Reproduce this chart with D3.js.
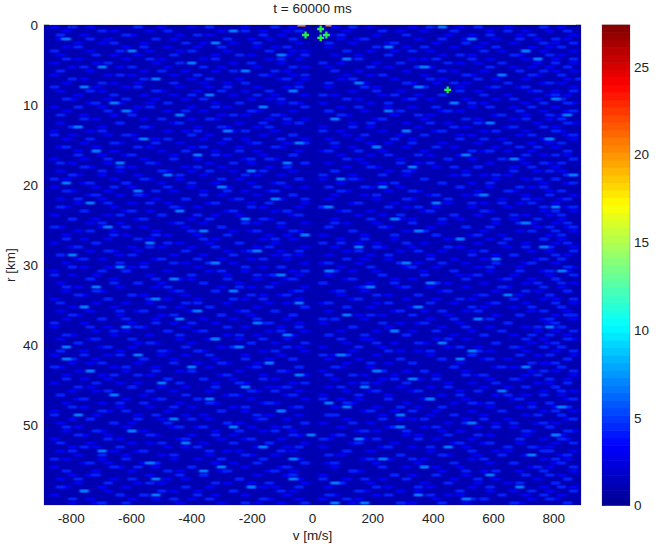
<!DOCTYPE html>
<html><head><meta charset="utf-8">
<script src="https://cdn.jsdelivr.net/npm/d3@7"></script>
<style>html,body{margin:0;background:#fff}svg{display:block}text{font-family:"Liberation Sans",Arial,sans-serif;fill:#222}</style>
</head><body><svg id="c" width="661" height="551"></svg>
<script>
// Speckle of the noise floor. One string per range bin, listing the velocity bins that hold a streak.
// brightRows: the strongest streaks, placed by eye from zoomed crops where they could be picked out.
// midRows, faintRows: weaker speckle, hand-typed to match its density and look; NOT individually read positions.
const brightRows = [
"66","31","","3 71","28","57","14 80","39","82 50","24",
"9 63","33","76","18","52","62 6","41","27","85","11 68",
"36","13 57","87 22","48","74","5","30 60","","16 84","42",
"55","8","25 70","78","40 12","61","34","20 88","49","3",
"56 29","15","73","38","7 65","85 47","22","","33 58","80",
"10","62 26","43","69","17","52 83","35","4","75","28 60",
"12","47 86","39","21","64","8 54","31","77","18","42",
"62 6","25","50","22 72","35","13 84","58","40","28","66",
"32 3 ","71","15 49","69 3","37","80 24","7 55","42","61","19",
"53 33","76","11","27 64","47","50 86","39","5 59","21","71",
"59 31","14","85 44","52","23","36 67","9","81","41 56","17",
"63 29","26","74","18 41","48","34 79","6","18 62","70","48 53",
"25","11","39 66","52 84","41","39 30 ","58","21","8 74","63"
];
const midRows = [
"4 15 27 38 51 64 72 83","9 20 33 42 56 68 77 87","2 13 25 36 49 60 74 81","7 18 30 41 53 66 79 85","11 23 35 47 58 70 83 88","5 16 29 40 55 63 75 86","1 12 24 37 50 61 73 80","8 21 32 43 57 69 78 84","3 17 28 39 52 65 71 82 88","10 22 34 46 59 67 76 85",
"6 14 26 41 54 62 74 87","2 19 31 38 48 66 79 83","12 25 36 43 56 70 81 86","4 16 27 40 51 64 72 89","9 21 33 47 60 68 77 84","1 15 30 42 53 63 75 80","7 18 29 37 55 69 82 88","11 24 35 46 58 66 73 85","3 13 26 39 50 61 78 86","8 20 32 41 57 71 83 87",
"5 17 28 43 52 65 74 81","10 23 34 47 59 67 79 88","2 14 31 38 49 62 76 84","6 19 27 40 56 70 80 86","12 22 36 42 54 64 72 87","4 16 29 37 51 68 78 83","9 25 33 46 60 66 75 85","1 13 24 41 53 63 81 88","7 20 30 39 58 69 73 84","11 18 35 43 48 61 77 86",
"3 15 26 38 55 65 79 82","8 23 32 47 52 71 74 87","5 14 28 41 57 62 80 85","10 21 34 37 50 67 76 88","2 17 31 43 59 64 83 86","6 12 25 40 54 68 72 81","9 19 27 36 48 60 78 84","4 22 33 46 56 70 75 87","1 16 29 42 51 63 82 85","7 13 24 39 58 66 74 88",
"11 20 35 47 53 69 79 83","3 18 30 38 49 61 77 86","8 15 26 41 55 65 72 84","5 23 32 43 60 67 80 87","10 17 28 37 52 71 76 81","2 21 34 46 57 62 83 88","6 14 31 40 50 64 73 85","12 19 25 42 59 68 78 86","4 16 27 36 54 66 75 82","9 22 33 39 48 61 79 87",
"1 13 29 47 56 70 74 84 88","7 24 35 41 51 63 81 85","11 18 30 43 58 65 72 86","3 15 26 38 53 69 77 83","8 20 32 46 49 60 76 87","5 17 28 37 55 67 80 84","10 23 34 42 52 62 73 88","2 14 31 40 57 71 78 85","6 19 25 36 50 64 83 86","12 21 27 47 59 66 75 81",
"4 16 33 39 54 61 74 87","9 13 29 43 48 68 79 84","1 24 35 38 56 63 72 88","7 18 30 41 51 70 77 85","11 15 26 46 58 65 82 86","3 20 32 37 53 60 76 83","8 22 28 42 49 67 80 87","5 14 34 40 55 62 73 84","10 17 31 36 52 69 78 88","2 23 25 47 57 64 75 85",
"6 19 27 43 50 71 81 86","12 16 33 38 59 66 72 83","4 21 29 41 54 61 79 87 88","9 13 35 46 48 68 74 84","1 18 24 37 56 63 77 85","7 15 30 42 51 70 82 86","11 20 26 39 58 65 76 88","3 22 32 47 53 60 73 81 84","8 14 28 36 49 67 80 87","5 17 34 43 55 62 75 85",
"10 23 31 40 52 69 78 83 86","2 19 25 38 57 64 72 88","6 12 27 46 50 71 79 84","4 16 33 41 59 66 74 87","9 21 29 37 54 61 81 85","1 13 35 42 48 68 76 86","7 18 24 39 56 63 83 88","11 15 30 47 51 70 73 82","3 20 26 36 58 65 78 84","8 22 32 43 53 60 75 87",
"5 14 28 40 49 67 80 85","10 17 34 38 55 62 72 86","2 23 31 41 52 69 77 83","6 19 25 46 57 64 79 88","12 16 27 37 50 71 74 84","4 21 33 42 59 66 81 87","9 13 29 39 54 61 76 85","1 18 35 47 48 68 82 86","7 15 24 36 56 63 73 88","11 20 30 43 51 70 78 83",
"3 22 26 40 58 65 75 84","8 14 32 38 53 60 80 87","5 17 28 41 49 67 72 85","10 23 34 46 55 62 79 86","2 19 31 37 52 69 74 88","6 12 25 42 57 64 77 81","4 16 27 39 50 71 83 84","9 21 33 47 59 66 76 87","1 13 29 36 54 61 73 85","7 18 35 43 48 68 78 86",
"11 15 24 40 56 63 82 88","3 20 30 38 51 70 75 83","8 22 26 41 58 65 80 84","5 14 32 46 53 60 72 87","10 17 28 37 49 67 79 85","2 23 34 42 55 62 74 86","6 19 31 39 52 69 81 88","12 16 25 47 57 64 76 83","4 21 27 36 50 71 73 84","9 13 33 43 59 66 78 87"
];
const faintRows = [
"1 7 19 24 33 41 48 54 61 69 77 86","3 11 17 29 36 40 50 59 63 74 80 84","6 14 22 27 39 43 47 55 67 71 79 88","2 10 21 34 37 49 52 62 70 75 82 87","5 9 16 26 31 42 51 57 65 73 78 85","3 13 20 25 35 38 47 60 68 72 81 84","7 17 22 30 41 43 54 58 64 76 83 88","2 11 15 28 34 40 48 52 66 71 79 86","5 13 19 26 37 42 50 61 63 74 80 85","1 8 18 24 31 39 49 55 69 72 82 88",
"4 12 20 29 35 43 47 57 64 78 81 84","7 16 23 28 33 40 52 60 68 73 85 88","1 10 14 21 37 41 50 54 63 71 76 82","6 18 24 32 39 43 49 58 66 75 80 87","3 11 15 26 30 42 53 61 65 70 83 86","8 13 22 27 35 40 47 55 69 74 79 88","2 9 19 25 33 41 51 59 67 72 81 85","5 16 21 31 38 43 48 56 62 77 84 87","4 10 18 23 34 37 52 60 64 70 75 82","7 12 17 28 39 42 46 54 68 73 80 88",
"1 9 15 24 30 36 49 57 61 71 78 85","3 14 20 26 35 41 47 53 66 69 83 87","6 11 22 29 33 39 50 58 64 75 80 86","8 16 24 28 37 43 48 55 63 72 78 84","2 12 21 32 40 42 51 60 67 74 82 88","5 9 17 25 30 35 46 54 62 70 77 85","1 7 20 23 31 38 49 56 65 73 80 86","4 10 14 27 36 41 50 59 69 71 79 87","3 15 18 26 33 43 47 52 61 76 83 88","6 12 22 29 34 40 54 57 66 72 81 84",
"2 8 17 24 32 39 48 51 60 68 75 85","5 11 19 28 35 42 46 56 63 73 77 81","9 13 21 30 36 41 49 54 64 69 83 87","1 6 16 25 33 38 52 59 67 71 79 88","4 10 18 27 34 43 47 53 62 74 80 84","7 14 23 29 37 40 50 55 65 72 78 85","2 12 20 24 31 41 48 57 61 70 82 86","5 9 15 26 35 39 51 60 68 73 77 88","3 11 17 22 32 42 46 52 63 75 80 85","6 13 19 28 34 38 49 56 66 71 83 87",
"1 8 14 24 30 40 43 54 59 69 74 81","4 10 21 26 33 37 50 57 62 72 78 84","7 12 16 29 35 41 48 53 64 70 80 88","2 9 18 23 31 39 47 55 61 76 82 86","5 14 20 27 34 43 51 58 67 73 79 85","3 11 22 25 36 42 46 60 65 71 77 87","6 13 17 30 38 40 49 54 63 74 83 88","1 10 19 28 32 41 52 56 68 72 80 84","4 8 15 24 33 37 48 59 61 69 78 86","7 12 21 26 35 43 50 55 66 75 81 85",
"2 9 16 23 29 39 47 57 64 70 82 87","5 11 18 31 34 42 51 60 62 73 79 88","3 13 20 25 37 40 46 53 65 71 76 84","6 10 17 28 36 41 49 58 67 74 83 86","1 8 22 27 32 38 52 55 63 72 80 85","4 14 19 24 35 43 48 56 61 69 77 88","7 11 15 30 33 39 50 59 66 71 81 84","2 12 21 26 38 42 47 54 64 75 78 87","5 9 18 29 34 40 53 57 68 73 82 86","3 16 23 28 31 43 46 52 62 70 80 85",
"6 10 14 25 36 39 49 60 65 72 79 88","1 13 20 27 33 41 51 55 63 74 83 87","4 8 17 30 37 42 47 56 69 71 78 84","7 11 22 24 35 40 50 58 61 76 81 85","2 15 19 26 32 38 46 54 67 73 80 88","5 12 18 29 34 43 52 59 64 70 77 86","3 9 21 28 31 41 48 53 66 75 82 87","6 14 16 23 36 39 49 57 62 72 79 84","1 10 20 25 33 42 51 60 65 71 83 85","8 13 17 30 37 40 46 55 68 74 80 88",
"4 11 22 27 35 43 50 54 61 73 78 86","2 7 15 24 32 38 47 58 63 70 81 87","5 12 19 29 34 41 52 56 67 75 79 85","3 9 18 26 31 40 48 53 64 72 83 88","6 14 21 28 36 42 46 59 62 69 77 84","1 10 16 23 33 39 51 57 66 74 80 86","8 13 20 25 37 43 49 55 61 71 82 85","4 11 17 30 35 41 47 60 68 73 78 87","2 7 22 27 32 40 53 54 65 70 83 88","5 15 18 24 34 38 50 58 63 75 81 84",
"3 9 14 29 31 42 46 56 67 72 79 86","6 12 20 26 36 43 51 59 62 74 80 85","1 10 19 23 33 39 48 55 64 71 82 88","8 16 21 28 37 41 47 52 66 73 77 87","4 7 15 25 30 35 50 57 61 69 83 84","2 11 18 27 34 42 49 54 68 75 78 86","5 13 22 24 32 40 46 60 63 70 81 85","3 9 17 29 36 43 53 58 65 72 80 88","6 10 20 26 31 38 48 56 62 74 79 87","1 12 15 28 33 41 51 55 67 71 82 84",
"7 14 19 23 37 39 47 59 64 73 77 85","4 8 21 27 35 42 50 54 61 69 83 88","2 11 16 30 32 40 46 57 66 75 80 86","5 13 18 25 34 43 49 52 63 70 78 87","3 9 22 28 36 38 51 60 68 72 81 84","6 12 17 24 31 41 48 55 62 74 79 85","1 10 20 29 33 39 53 58 65 71 83 88","8 15 23 26 37 42 47 56 64 73 80 86","4 7 19 27 35 40 50 59 61 70 77 87","2 11 14 30 32 43 46 54 67 75 82 85",
"5 13 21 25 34 38 49 57 63 72 78 84","3 9 16 28 36 41 52 55 66 69 81 88","6 10 18 24 31 42 48 60 62 74 80 86","1 12 22 29 33 39 47 53 65 71 83 87","7 14 17 26 37 43 51 58 68 73 79 85","4 8 20 23 35 40 46 56 61 70 82 84","2 11 15 30 32 41 50 54 64 75 77 88","5 13 19 27 34 38 49 59 67 72 80 86","3 9 21 25 36 42 53 57 63 71 83 87","6 10 16 28 31 43 47 55 62 74 78 85",
"1 12 18 24 33 39 48 60 65 69 81 84","8 14 22 29 37 41 51 52 66 73 79 88","4 7 17 26 35 40 46 58 61 70 80 86","2 11 20 23 32 42 50 56 68 75 82 87","5 15 19 30 34 43 49 54 63 72 77 85","3 9 13 27 36 38 47 57 64 71 83 88","6 10 21 25 31 41 53 59 62 74 78 84","1 12 16 28 33 40 48 55 67 69 80 86","7 14 18 24 37 42 46 52 65 73 81 85","4 8 22 29 35 39 51 60 61 70 79 87"
];
// Strong returns: velocity (m/s), range (km).
const peakV = [-23, 27, 27, 46, 448];
const peakR = [1.25, 0.5, 1.6, 1.25, 8.1];
// Thin warm streaks on the top edge: start and end velocity (m/s), level.
const edgeFrom = [-50, 43];
const edgeTo = [-23, 63];
const edgeLevel = [20, 20];
const xTicks = [-800, -600, -400, -200, 0, 200, 400, 600, 800];
const yTicks = [0, 10, 20, 30, 40, 50];
const cTicks = [0, 5, 10, 15, 20, 25];
const vMax = 890, rMax = 60, cMax = 27.4, floorLevel = 1.1, faintLevel = 3.2, midLevel = 4.4, brightLevel = 6.6;

const L = 44, R = 581, T = 25, B = 505;
const svg = d3.select("#c");
const x = d3.scaleLinear().domain([-vMax, vMax]).range([L, R]);
const y = d3.scaleLinear().domain([0, rMax]).range([T, B]);
const c = d3.scaleLinear().domain([0, 27.4]).range([505.5, 25]);
const jet = d3.scaleLinear()
  .domain([0, .125, .375, .625, .875, 1].map(f => f * cMax))
  .range(["#00008f", "#0000ff", "#00ffff", "#ffff00", "#ff0000", "#800000"]);

const defs = svg.append("defs");
defs.append("clipPath").attr("id", "clip").append("rect").attr("x", L).attr("y", T).attr("width", R - L).attr("height", B - T);
defs.append("filter").attr("id", "soft").attr("x", "-5%").attr("y", "-5%").attr("width", "110%").attr("height", "110%")
  .append("feGaussianBlur").attr("stdDeviation", "1.1 0.5");
defs.append("filter").attr("id", "soft2").attr("x", "-50%").attr("y", "-50%").attr("width", "200%").attr("height", "200%")
  .append("feGaussianBlur").attr("stdDeviation", 0.7);

const col = d3.scaleBand().domain(d3.range(90)).range([L, R]);
const row = d3.scaleBand().domain(d3.range(120)).range([T, B]);
const parse = (rows, level) => rows.flatMap((s, i) => s.trim() ? s.trim().split(/\s+/).map(d => ({ i, j: +d, v: level })) : []);
const cells = parse(faintRows, faintLevel).concat(parse(midRows, midLevel), parse(brightRows, brightLevel));

const plot = svg.append("g").attr("clip-path", "url(#clip)");
plot.append("rect").attr("x", L).attr("y", T).attr("width", R - L).attr("height", B - T).attr("fill", jet(floorLevel));
plot.append("g").attr("filter", "url(#soft)").selectAll("rect").data(cells).join("rect")
  .attr("x", d => col(d.j)).attr("y", d => row(d.i) + .5)
  .attr("width", col.bandwidth() * 1.5).attr("height", row.bandwidth() * .75)
  .attr("fill", d => jet(d.v));
plot.append("g").attr("filter", "url(#soft2)").selectAll("rect").data(edgeFrom).join("rect")
  .attr("x", d => x(d)).attr("y", T - 1)
  .attr("width", (d, i) => x(edgeTo[i]) - x(d)).attr("height", 2.5)
  .attr("fill", (d, i) => jet(edgeLevel[i]));
plot.append("g").attr("filter", "url(#soft2)").selectAll("path").data(peakV).join("path")
  .attr("d", d3.symbol(d3.symbolCross, 26))
  .attr("transform", (d, i) => `translate(${x(d)},${y(peakR[i])})`)
  .attr("fill", "#22ee44");

const tick = (g, xx, yy, anchor, t, dy) => g.append("text").attr("x", xx).attr("y", yy).attr("text-anchor", anchor)
  .attr("dy", dy || 0).attr("font-size", 13.5).text(t);
const ax = svg.append("g");
ax.append("rect").attr("x", L).attr("y", T).attr("width", R - L).attr("height", B - T).attr("fill", "none").attr("stroke", "#223").attr("stroke-opacity", .35).attr("stroke-width", .6);
xTicks.forEach(t => {
  tick(ax, x(t), 523, "middle", t);
  ax.append("line").attr("x1", x(t)).attr("x2", x(t)).attr("y1", B).attr("y2", B - 5).attr("stroke", "#112").attr("stroke-opacity", .45);
  ax.append("line").attr("x1", x(t)).attr("x2", x(t)).attr("y1", T).attr("y2", T + 5).attr("stroke", "#112").attr("stroke-opacity", .45);
});
yTicks.forEach(t => {
  tick(ax, 38, y(t), "end", t, "0.35em");
  ax.append("line").attr("x1", L).attr("x2", L + 5).attr("y1", y(t)).attr("y2", y(t)).attr("stroke", "#112").attr("stroke-opacity", .45);
  ax.append("line").attr("x1", R).attr("x2", R - 5).attr("y1", y(t)).attr("y2", y(t)).attr("stroke", "#112").attr("stroke-opacity", .45);
});
tick(ax, 312.5, 13, "middle", "t = 60000 ms");
tick(ax, 312.5, 540, "middle", "v [m/s]");
ax.append("text").attr("transform", "translate(15,265) rotate(-90)").attr("text-anchor", "middle").attr("font-size", 13.5).text("r [km]");

const cbL = 602, cbR = 630;
const levels = d3.range(64).map(i => (i + .5) / 64 * cMax);
const cb = svg.append("g");
cb.selectAll("rect").data(levels).join("rect")
  .attr("x", cbL).attr("width", cbR - cbL)
  .attr("y", d => c(d) - 480.5 / 64 / 2 - .3).attr("height", 480.5 / 64 + .6)
  .attr("fill", d => jet(d));
cb.append("rect").attr("x", cbL).attr("y", 25).attr("width", cbR - cbL).attr("height", 480.5).attr("fill", "none").attr("stroke", "#334").attr("stroke-opacity", .4).attr("stroke-width", .6);
cTicks.forEach(t => {
  tick(ax, 634, c(t), "start", t, "0.35em");
  ax.append("line").attr("x1", cbL).attr("x2", cbL + 4).attr("y1", c(t)).attr("y2", c(t)).attr("stroke", "#112").attr("stroke-opacity", .4);
  ax.append("line").attr("x1", cbR).attr("x2", cbR - 4).attr("y1", c(t)).attr("y2", c(t)).attr("stroke", "#112").attr("stroke-opacity", .4);
});
</script></body></html>
